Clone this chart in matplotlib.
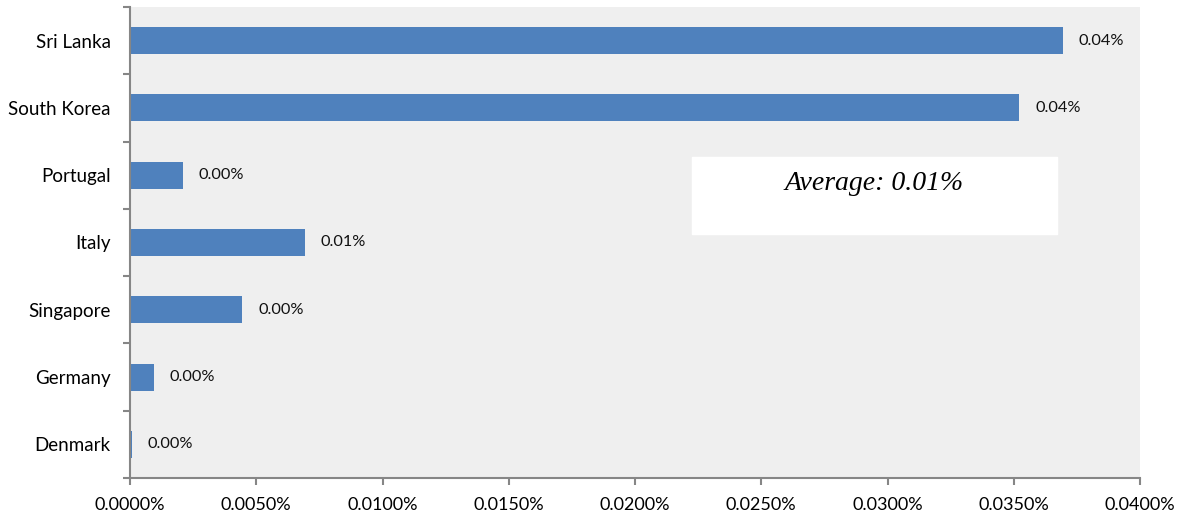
import numpy as np
import matplotlib.pyplot as plt

plt.rcParams['font.family'] = ['Lato', 'DejaVu Sans']

# Data (percent), bottom to top
countries = ['Denmark', 'Germany', 'Singapore', 'Italy', 'Portugal', 'South Korea', 'Sri Lanka']
values = [0.00008, 0.00095, 0.00444, 0.00693, 0.0021, 0.03521, 0.03695]
xticks = [0.0, 0.005, 0.01, 0.015, 0.02, 0.025, 0.03, 0.035, 0.04]

axis_col = '#868686'
bar_col = '#4F81BD'

fig = plt.figure(figsize=(11.81, 5.18), dpi=100)
ax = fig.add_axes([130/1181, 40/518, 1010/1181, 471/518])
ax.set_facecolor('#EFEFEF')

pos = np.arange(len(countries))
ax.barh(pos, values, height=0.4, color=bar_col, zorder=2)

for y, v in zip(pos, values):
    ax.annotate(f'{v:.2f}%', (v, y), xytext=(11.5, 0), textcoords='offset points',
                va='center', ha='left', fontsize=11.8, color='#111111')

ax.set_xlim(0, 0.04)
ax.set_ylim(-0.5, len(countries) - 0.5)

ax.set_xticks(xticks)
ax.set_xticklabels([f'{t:.4f}%' for t in xticks], fontsize=13)

# tick marks between categories, labels centred on bars
ax.set_yticks(np.arange(-0.5, len(countries), 1.0))
ax.set_yticklabels([])
ax.set_yticks(pos, minor=True)
ax.set_yticklabels(countries, minor=True, fontsize=13.5)
ax.tick_params(axis='y', which='minor', length=0, pad=14)
ax.tick_params(axis='both', which='major', length=5, width=1.5, color=axis_col)
ax.tick_params(axis='x', pad=9)

for s in ['top', 'right']:
    ax.spines[s].set_visible(False)
for s in ['left', 'bottom']:
    ax.spines[s].set_color(axis_col)
    ax.spines[s].set_linewidth(1.5)

avg = np.mean(values)
box_x0, box_x1 = 0.02226, 0.03671
ax.fill_between([box_x0, box_x1], 3.126, 4.27, color='white', zorder=3)
ax.text((box_x0 + box_x1) / 2, 3.88, f'Average: {avg:.2f}%', ha='center', va='center',
        fontsize=20, style='italic', family='Liberation Serif', zorder=4)

fig.savefig('out.png', dpi=100)
